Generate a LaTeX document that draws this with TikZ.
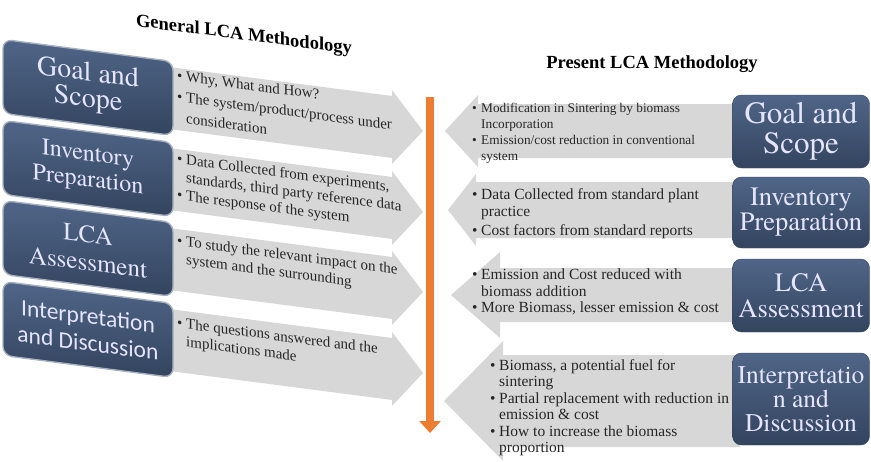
\documentclass[tikz,border=0pt]{standalone}
\usepackage{fontspec}
\setmainfont{Liberation Serif}
\newfontfamily\boxserif{TeX Gyre Termes}
\newfontfamily\boxsans{Carlito}
\usepackage{xcolor}
\usetikzlibrary{backgrounds,arrows.meta}
\definecolor{boxtop}{HTML}{506588}
\definecolor{boxbot}{HTML}{33445E}
\definecolor{boxedge}{HTML}{A7B0BE}
\definecolor{panelgray}{HTML}{D7D7D7}
\definecolor{flow}{HTML}{ED7D31}
\newcommand{\bul}{\makebox[9pt][l]{\textbullet}}
\newcommand{\ind}{\hspace*{9pt}}

\begin{document}
\begin{tikzpicture}[x=1pt,y=-1pt]
  \tikzstyle{stage} = [rounded corners=9pt,top color=boxtop,bottom color=boxbot,draw=boxbot,
                       text=white!90!blue,align=center,inner sep=0pt,minimum width=137pt]
  \tikzstyle{lstage} = [stage,draw=boxedge,line width=1.4pt,minimum width=170pt,minimum height=74pt]
  \tikzstyle{panel} = [fill=panelgray]
  \tikzstyle{note} = [anchor=north west,align=left,inner sep=0pt,text=black!85]
  \tikzstyle{heading} = [font=\bfseries\fontsize{18.5}{20}\selectfont]
  \tikzstyle{flowline} = [draw=flow,line width=8pt,-{Triangle[width=21pt,length=12pt]}]
  \useasboundingbox (0,0) rectangle (871,461);
  %
  % General methodology (left), seen slightly in perspective.
  \begin{scope}[yslant=-0.13,every node/.style={transform shape}]
    \begin{pgfonlayer}{background}
      \foreach \c in {76,157,237,318}
        \fill[panel] (160,\c-31) -- (392,\c-31) -- (392,\c-37) -- (423,\c)
                     -- (392,\c+37) -- (392,\c+31) -- (160,\c+31) -- cycle;
    \end{pgfonlayer}
    \node[heading] (gtitle) at (244,4) {General LCA Methodology};
    % Stages.
    \node[lstage,font=\boxserif\fontsize{28}{26}\selectfont] (g1) at (88,76) {Goal and\\Scope};
    \node[lstage,font=\boxserif\fontsize{24}{26}\selectfont] (g2) at (88,157) {Inventory\\Preparation};
    \node[lstage,font=\boxserif\fontsize{25}{28}\selectfont] (g3) at (88,237) {LCA\\Assessment};
    \node[lstage,font=\boxsans\fontsize{23.5}{27}\selectfont] (g4) at (88,318) {Interpretation\\and Discussion};
    % Notes.
    \node[note,font=\fontsize{15}{21}\selectfont] (gn1) at (177,47)
      {\bul Why, What and How?\\\bul The system/product/process under\\\ind consideration};
    \node[note,font=\fontsize{15}{18}\selectfont] (gn2) at (177,130)
      {\bul Data Collected from experiments,\\\ind standards, third party reference data\\\bul The response of the system};
    \node[note,font=\fontsize{15}{18}\selectfont] (gn3) at (177,212)
      {\bul To study the relevant impact on the\\\ind system and the surrounding};
    \node[note,font=\fontsize{15}{18}\selectfont] (gn4) at (177,294)
      {\bul The questions answered and the\\\ind implications made};
  \end{scope}
  %
  % Flow between the two.
  \coordinate (flowtop) at (430,97);
  \coordinate (flowend) at (430,433);
  \draw[flowline] (flowtop) -- (flowend);
  %
  % Present methodology (right).
  \begin{pgfonlayer}{background}
    \foreach \c/\b/\h/\t/\s in {131/27/36/445/478, 210/28/36/448/476, 295/27/43/451/500, 401/46/60/444/503}
      \fill[panel] (740,\c-\b) -- (\s,\c-\b) -- (\s,\c-\h) -- (\t,\c)
                   -- (\s,\c+\h) -- (\s,\c+\b) -- (740,\c+\b) -- cycle;
  \end{pgfonlayer}
  \node[heading] (ptitle) at (652,64) {Present LCA Methodology};
  % Stages.
  \node[stage,minimum height=73pt,font=\boxserif\fontsize{31}{30}\selectfont] (p1) at (801,131.5) {Goal and\\Scope};
  \node[stage,minimum height=71pt,font=\boxserif\fontsize{26.5}{25}\selectfont] (p2) at (801,212.5) {Inventory\\Preparation};
  \node[stage,minimum height=73pt,font=\boxserif\fontsize{26.5}{26}\selectfont] (p3) at (801,295.5) {LCA\\Assessment};
  \node[stage,minimum height=92pt,font=\boxserif\fontsize{25.5}{24}\selectfont] (p4) at (801,399) {Interpretatio\\n and\\Discussion};
  % Notes.
  \node[note,font=\fontsize{13.3}{15.5}\selectfont] (pn1) at (472,103)
    {\bul Modification in Sintering by biomass\\\ind Incorporation\\[1pt]\bul Emission/cost reduction in conventional\\\ind system};
  \node[note,font=\fontsize{15.5}{17}\selectfont] (pn2) at (472,188)
    {\bul Data Collected from standard plant\\\ind practice\\[2pt]\bul Cost factors from standard reports};
  \node[note,font=\fontsize{15.5}{16.5}\selectfont] (pn3) at (472,269)
    {\bul Emission and Cost reduced with\\\ind biomass addition\\\bul More Biomass, lesser emission \& cost};
  \node[note,font=\fontsize{15.5}{16.5}\selectfont] (pn4) at (490,359)
    {\bul Biomass, a potential fuel for\\\ind sintering\\\bul Partial replacement with reduction in\\\ind emission \& cost\\\bul How to increase the biomass\\\ind proportion};
\end{tikzpicture}
\end{document}
